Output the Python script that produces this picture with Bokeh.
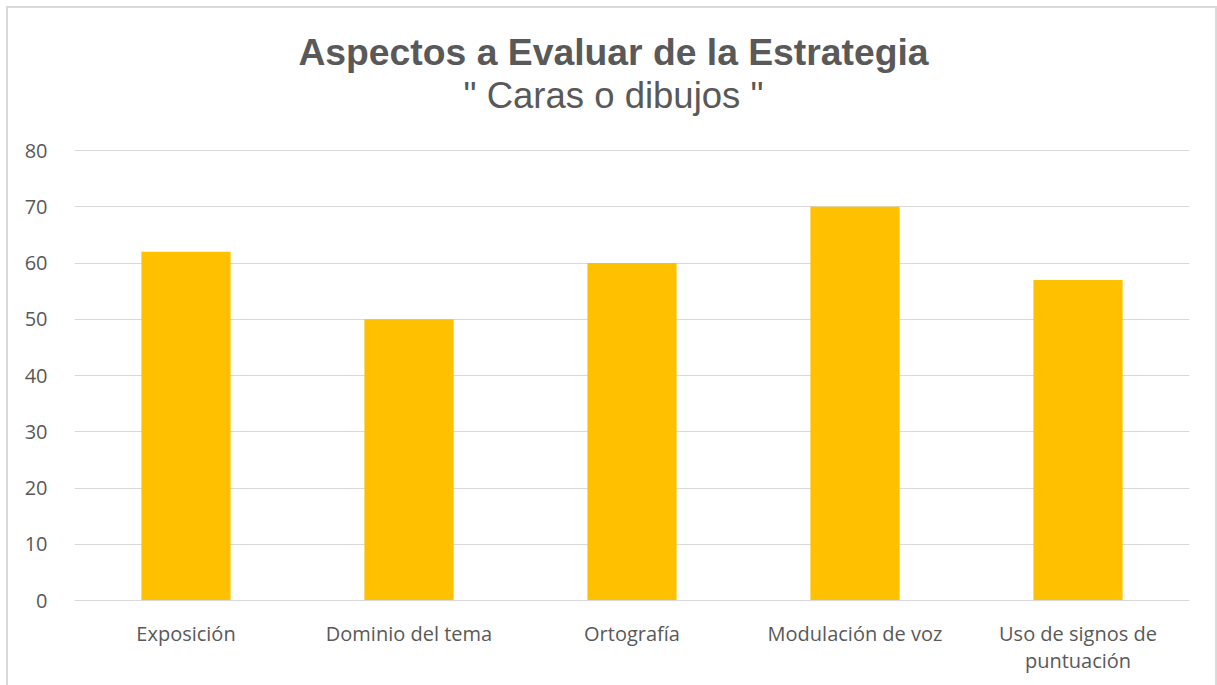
from bokeh.plotting import figure
from bokeh.models import Label, FixedTicker
from bokeh.embed import file_html
from bokeh.resources import INLINE

categories = ["Exposición", "Dominio del tema", "Ortografía", "Modulación de voz", "Uso de signos de\npuntuación"]
values = [62, 50, 60, 70, 57]
y_ticks = [0, 10, 20, 30, 40, 50, 60, 70, 80]
title_text = "Aspectos a Evaluar de la Estrategia"
subtitle_text = '" Caras o dibujos "'

W, H = 1207, 677
BOTTOM = 85                 # px below frame
FRAME_H = H - BOTTOM        # frame spans from canvas top to axis
PX_PER_UNIT = 450 / 80      # 0..80 occupies 450 px in the reference
y_top = FRAME_H / PX_PER_UNIT

def y_at(canvas_y):
    return (FRAME_H - canvas_y) / PX_PER_UNIT

p = figure(x_range=categories, y_range=(0, y_top), width=W, height=H,
           output_backend="svg", toolbar_location=None, tools="",
           min_border_left=66, min_border_right=26, min_border_top=0, min_border_bottom=BOTTOM)
p.margin = (8, 0, 0, 8)
p.styles = {"outline": "2px solid #d9d9d9"}
p.outline_line_color = None
p.title.visible = False

p.vbar(x=categories, top=values, width=0.4, color="#FFC000", line_color=None)

p.xgrid.grid_line_color = None
p.ygrid.grid_line_color = "#d9d9d9"
p.ygrid.grid_line_width = 1
p.yaxis.ticker = FixedTicker(ticks=y_ticks)
p.ygrid.ticker = FixedTicker(ticks=y_ticks)

for ax in (p.xaxis, p.yaxis):
    ax.major_tick_line_color = None
    ax.minor_tick_line_color = None
    ax.major_label_text_font = "Open Sans"
    ax.major_label_text_font_size = "20px"
    ax.major_label_text_color = "#595959"
p.yaxis.axis_line_color = None
p.yaxis.major_label_standoff = 21
p.xaxis.axis_line_color = "#d9d9d9"
p.xaxis.major_label_standoff = 13
p.xaxis.major_label_text_line_height = 1.0

p.add_layout(Label(x=539, x_units="screen", y=y_at(43), text=title_text,
                   text_font="Liberation Sans", text_font_style="bold", text_font_size="37.3px",
                   text_color="#595959", text_align="center", text_baseline="alphabetic"))
p.add_layout(Label(x=539, x_units="screen", y=y_at(87), text=subtitle_text,
                   text_font="Liberation Sans", text_font_size="36.5px",
                   text_color="#595959", text_align="center", text_baseline="alphabetic"))

open("out.html", "w").write(file_html(p, INLINE))
